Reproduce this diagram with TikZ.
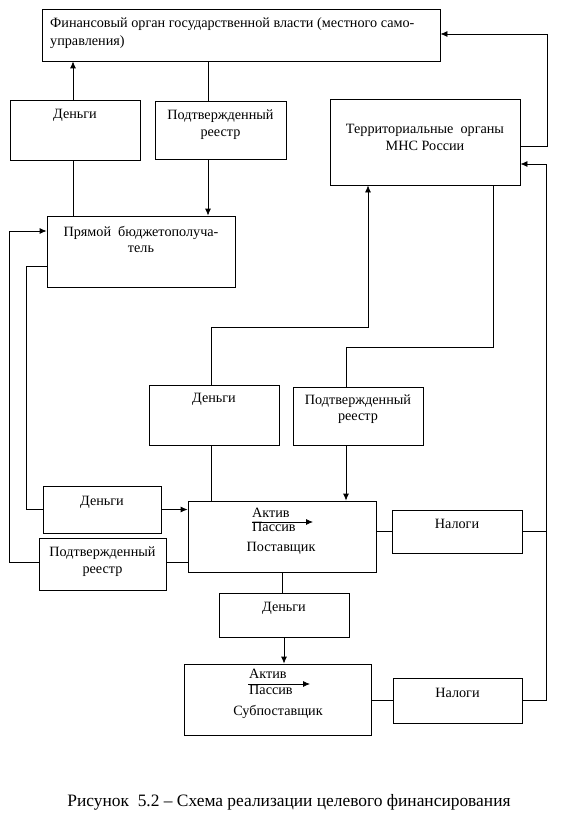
\documentclass[tikz,border=0pt]{standalone}
\usepackage{fontspec}
\setmainfont{Liberation Serif}
\usetikzlibrary{arrows.meta}

\begin{document}
\begin{tikzpicture}[x=1pt, y=-1pt,
    box/.style={draw, line width=0.8pt, inner sep=0pt},
    txt/.style={font=\fontsize{14.2}{16.5}\selectfont, align=center, inner sep=0pt},
    arr/.style={-{Latex[length=7pt,width=6pt]}, line width=0.8pt},
    link/.style={line width=0.8pt}]
  \useasboundingbox (0,0) rectangle (570,821);
  % boxes
  \node[box, minimum width=398, minimum height=52] (fin) at (241,35) {};
  \node[box, minimum width=130, minimum height=60] (dengi1) at (75,130) {};
  \node[box, minimum width=131, minimum height=58] (reg1) at (220.5,130) {};
  \node[box, minimum width=190, minimum height=86] (mns) at (425,142) {};
  \node[box, minimum width=188, minimum height=71] (direct) at (141,251.5) {};
  \node[box, minimum width=130, minimum height=60] (dengi2) at (214,415) {};
  \node[box, minimum width=130, minimum height=58] (reg2) at (358,416) {};
  \node[box, minimum width=118, minimum height=47] (dengi3) at (102,509.5) {};
  \node[box, minimum width=188, minimum height=71] (sup) at (282,536.5) {};
  \node[box, minimum width=127, minimum height=52] (reg3) at (102.5,564) {};
  \node[box, minimum width=130, minimum height=43] (tax1) at (457,531.5) {};
  \node[box, minimum width=130, minimum height=44] (dengi4) at (284,615) {};
  \node[box, minimum width=187, minimum height=71] (sub) at (277.5,699.5) {};
  \node[box, minimum width=129, minimum height=45] (tax2) at (457.5,700.5) {};
  % texts
  \node[txt, anchor=west, align=left] (fintxt) at (50,33) {Финансовый орган государственной власти (местного само-\\[1pt]управления)};
  \node[txt] (dengi1txt) at (75,115) {Деньги};
  \node[txt] (reg1txt) at (220.5,124.5) {Подтвержденный\\реестр};
  \node[txt] (mnstxt) at (425,137.5) {Территориальные~ органы\\МНС России};
  \node[txt] (directtxt) at (141,239.5) {Прямой~ бюджетополуча-\\тель};
  \node[txt] (dengi2txt) at (214,399) {Деньги};
  \node[txt] (reg2txt) at (358,409) {Подтвержденный\\реестр};
  \node[txt] (dengi3txt) at (102,502) {Деньги};
  \node[txt] (reg3txt) at (102.5,561.5) {Подтвержденный\\реестр};
  \node[txt] (tax1txt) at (457,524) {Налоги};
  \node[txt] (dengi4txt) at (284,608) {Деньги};
  \node[txt] (tax2txt) at (457.5,693) {Налоги};
  \node[txt, anchor=base west] (aktiv1) at (252,517) {Актив};
  \node[txt, anchor=base west] (passiv1) at (252,531) {Пассив};
  \node[txt] (suptxt) at (281,548) {Поставщик};
  \node[txt, anchor=base west] (aktiv2) at (249,678) {Актив};
  \node[txt, anchor=base west] (passiv2) at (249,694) {Пассив};
  \node[txt] (subtxt) at (278,712) {Субпоставщик};
  \coordinate (flow1s) at (252,522);
  \coordinate (flow1e) at (313,522);
  \coordinate (flow2s) at (248,684);
  \coordinate (flow2e) at (310,684);
  \draw[arr] (flow1s) -- (flow1e);
  \draw[arr] (flow2s) -- (flow2e);
  % connectors
  \draw[arr] ([xshift=-2]dengi1.north) -- ([xshift=-2]dengi1.north |- fin.south);
  \draw[link] ([xshift=-2]dengi1.south) -- ([xshift=-2]dengi1.south |- direct.north);
  \draw[link] ([xshift=-12.5]reg1.north) -- ([xshift=-12.5]reg1.north |- fin.south);
  \draw[arr] ([xshift=-12.5]reg1.south) -- ([xshift=-12.5]reg1.south |- direct.north);
  \draw[arr] ([yshift=-4]mns.east) -- ++(27,0) |- ([yshift=1]fin.east);
  \draw[arr] (tax2.east) -- ++(24,0) |- ([yshift=-22]mns.east);
  \draw[link] (tax1.east) -- ++(25,0);
  \draw[link] (sup.east |- tax1.east) -- (tax1.west);
  \draw[link] (sub.east |- tax2.west) -- (tax2.west);
  \draw[link] (sup.south) -- (sup.south |- dengi4.north);
  \draw[arr] (dengi4.south) -- (dengi4.south |- sub.north);
  \draw[arr] ([xshift=-3]dengi2.north) -- ++(0,-57) -| ([xshift=-57]mns.south);
  \draw[link] ([xshift=-3]dengi2.south) -- ([xshift=-3]dengi2.south |- sup.north);
  \draw[link] ([xshift=68]mns.south) -- ++(0,162) -| ([xshift=-12]reg2.north);
  \draw[arr] ([xshift=-12]reg2.south) -- ([xshift=-12]reg2.south |- sup.north);
  \draw[link] ([yshift=-14.5]direct.west) -- ++(-20,0) |- (dengi3.west);
  \draw[arr] (dengi3.east) -- (dengi3.east -| sup.west);
  \draw[arr] ([yshift=2]reg3.west) -- ++(-29,0) |- ([yshift=20.5]direct.west);
  \draw[link] ([yshift=2]reg3.east) -- ([yshift=2]reg3.east -| sup.west);
  % caption
  \node[txt, font=\fontsize{17.4}{20}\selectfont] (caption) at (289,802) {Рисунок~ 5.2 -- Схема реализации целевого финансирования};
\end{tikzpicture}
\end{document}
